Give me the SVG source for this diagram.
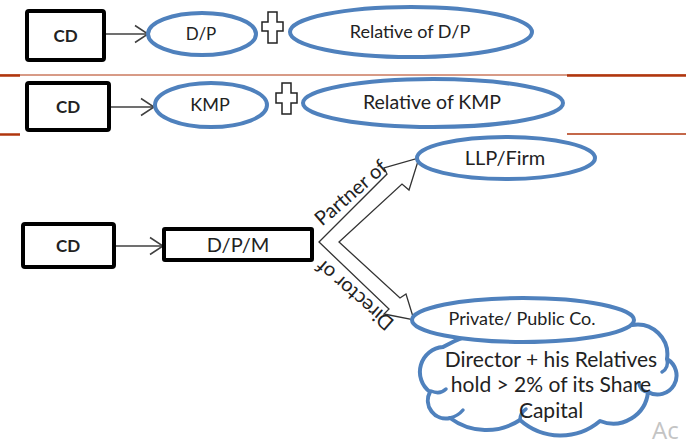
<svg xmlns="http://www.w3.org/2000/svg" width="686" height="446" viewBox="0 0 686 446">
<defs>
<style>
.box{fill:#fff;stroke:#000;stroke-width:4}
.ell{fill:#fff;stroke:#4F81BD;stroke-width:4}
.t{font-family:Lato,"Open Sans",sans-serif;fill:#222;font-size:18px;text-anchor:middle}
.cd{font-weight:bold;font-size:17px}
.conn{stroke:#404040;stroke-width:1.5;fill:none}
.plus{fill:#fff;stroke:#222;stroke-width:1.5}
.rule{stroke:#B0360E;fill:none}
.blk{fill:#fff;stroke:#333;stroke-width:1.3;stroke-linejoin:miter}
.rot{font-family:Lato,"Open Sans",sans-serif;fill:#222;font-size:20px;text-anchor:middle;dominant-baseline:central}
.cl{fill:#fff;stroke:#4F81BD;stroke-width:4;stroke-linejoin:round}
.curl{fill:none;stroke:#4F81BD;stroke-width:3.5;stroke-linecap:round}
</style>
<marker id="arr" viewBox="0 0 16 20" refX="14" refY="10" markerWidth="16" markerHeight="20" markerUnits="userSpaceOnUse" orient="auto"><path d="M1,1.5 L14,10 L1,18.5" fill="none" stroke="#404040" stroke-width="1.5"/></marker>
</defs>

<g id="rules">
<line class="rule" x1="0" y1="75" x2="686" y2="75" stroke-width="1"/>
<line class="rule" x1="0" y1="75.5" x2="20" y2="75.5" stroke-width="2.5"/>
<line class="rule" x1="567" y1="75.5" x2="686" y2="75.5" stroke-width="2.5"/>
<line class="rule" x1="0" y1="134.5" x2="20" y2="134.5" stroke-width="2.5"/>
<line class="rule" x1="567" y1="134" x2="686" y2="134" stroke-width="1.5"/>
</g>

<g id="connectors">
<line class="conn" x1="106" y1="34" x2="148" y2="34" marker-end="url(#arr)"/>
<line class="conn" x1="111" y1="107" x2="154" y2="107" marker-end="url(#arr)"/>
<line class="conn" x1="116" y1="246" x2="163" y2="246" marker-end="url(#arr)"/>
<path id="block-arrows" class="blk" d="M319,242 L387,174 L384,168 L419,158 L409,190 L402,184 L339,242 L400,298 L406,294 L414,320 L384,314 L389,309 Z"/>
<text class="rot" transform="translate(350,192) rotate(-41)">Partner of</text>
<text class="rot" transform="translate(354,296) rotate(-139)">Director of</text>
</g>

<g id="cd1">
<rect class="box" x="27" y="11" width="77" height="49" rx="2"/>
<text class="t cd" x="65.5" y="42">CD</text>
</g>
<g id="dp">
<ellipse class="ell" cx="202" cy="34" rx="54" ry="21"/>
<text class="t" x="201" y="40" style="font-size:17px">D/P</text>
</g>
<g id="plus1">
<path class="plus" d="M268,12 H277 V22 H283 V31 H277 V43 H268 V31 H262 V22 H268 Z"/>
</g>
<g id="rel-dp">
<ellipse class="ell" cx="411" cy="32" rx="121" ry="25"/>
<text class="t" x="410" y="38">Relative of D/P</text>
</g>

<g id="cd2">
<rect class="box" x="27" y="83" width="82" height="47" rx="2"/>
<text class="t cd" x="68" y="113">CD</text>
</g>
<g id="kmp">
<ellipse class="ell" cx="211" cy="105" rx="56" ry="22"/>
<text class="t" x="210" y="111">KMP</text>
</g>
<g id="plus2">
<path class="plus" d="M282,83 H291 V93 H297 V103 H291 V114 H282 V103 H276 V93 H282 Z"/>
</g>
<g id="rel-kmp">
<ellipse class="ell" cx="433" cy="103" rx="130" ry="24"/>
<text class="t" x="432" y="109" style="font-size:19.5px">Relative of KMP</text>
</g>

<g id="cd3">
<rect class="box" x="23" y="224" width="91" height="43" rx="2"/>
<text class="t cd" x="68" y="252">CD</text>
</g>
<g id="dpm">
<rect class="box" x="164" y="229" width="148" height="31" rx="1"/>
<text class="t" x="238" y="252" style="font-size:20px">D/P/M</text>
</g>

<g id="llp">
<ellipse class="ell" cx="506" cy="158" rx="89" ry="21"/>
<text class="t" x="505" y="165" style="font-size:20px">LLP/Firm</text>
</g>

<g id="cloud">
<path class="cl" d="M443,347 A25,25 0 0 0 430,392 A18,18 0 0 0 450,418 A61,61 0 0 0 520,420 A61,61 0 0 0 600,421 A35,35 0 0 0 648,392 A18.7,18.7 0 0 0 667,359 A30,30 0 0 0 632,325 A120,120 0 0 0 540,336 A120,120 0 0 0 443,347 Z"/>
<path class="curl" d="M431,391 Q440,395 446,389"/>
<path class="curl" d="M450,418 Q458,416 463,410"/>
<path class="curl" d="M520,420 Q520,413 526,409"/>
<path class="curl" d="M648,392 Q640,391 639,383"/>
<path class="curl" d="M667,359 Q669,368 662,372"/>
<text class="t" x="551" y="367" style="font-size:21px">Director + his Relatives</text>
<text class="t" x="551" y="392" style="font-size:21px">hold &gt; 2% of its Share</text>
<text class="t" x="551" y="418" style="font-size:21px">Capital</text>
</g>

<g id="company">
<ellipse class="ell" cx="523" cy="320" rx="111" ry="22"/>
<text class="t" x="522" y="325">Private/ Public Co.</text>
</g>

<text x="652" y="439" font-family="'Open Sans',sans-serif" font-size="24" fill="#c4c4c4">Ac</text>
</svg>
